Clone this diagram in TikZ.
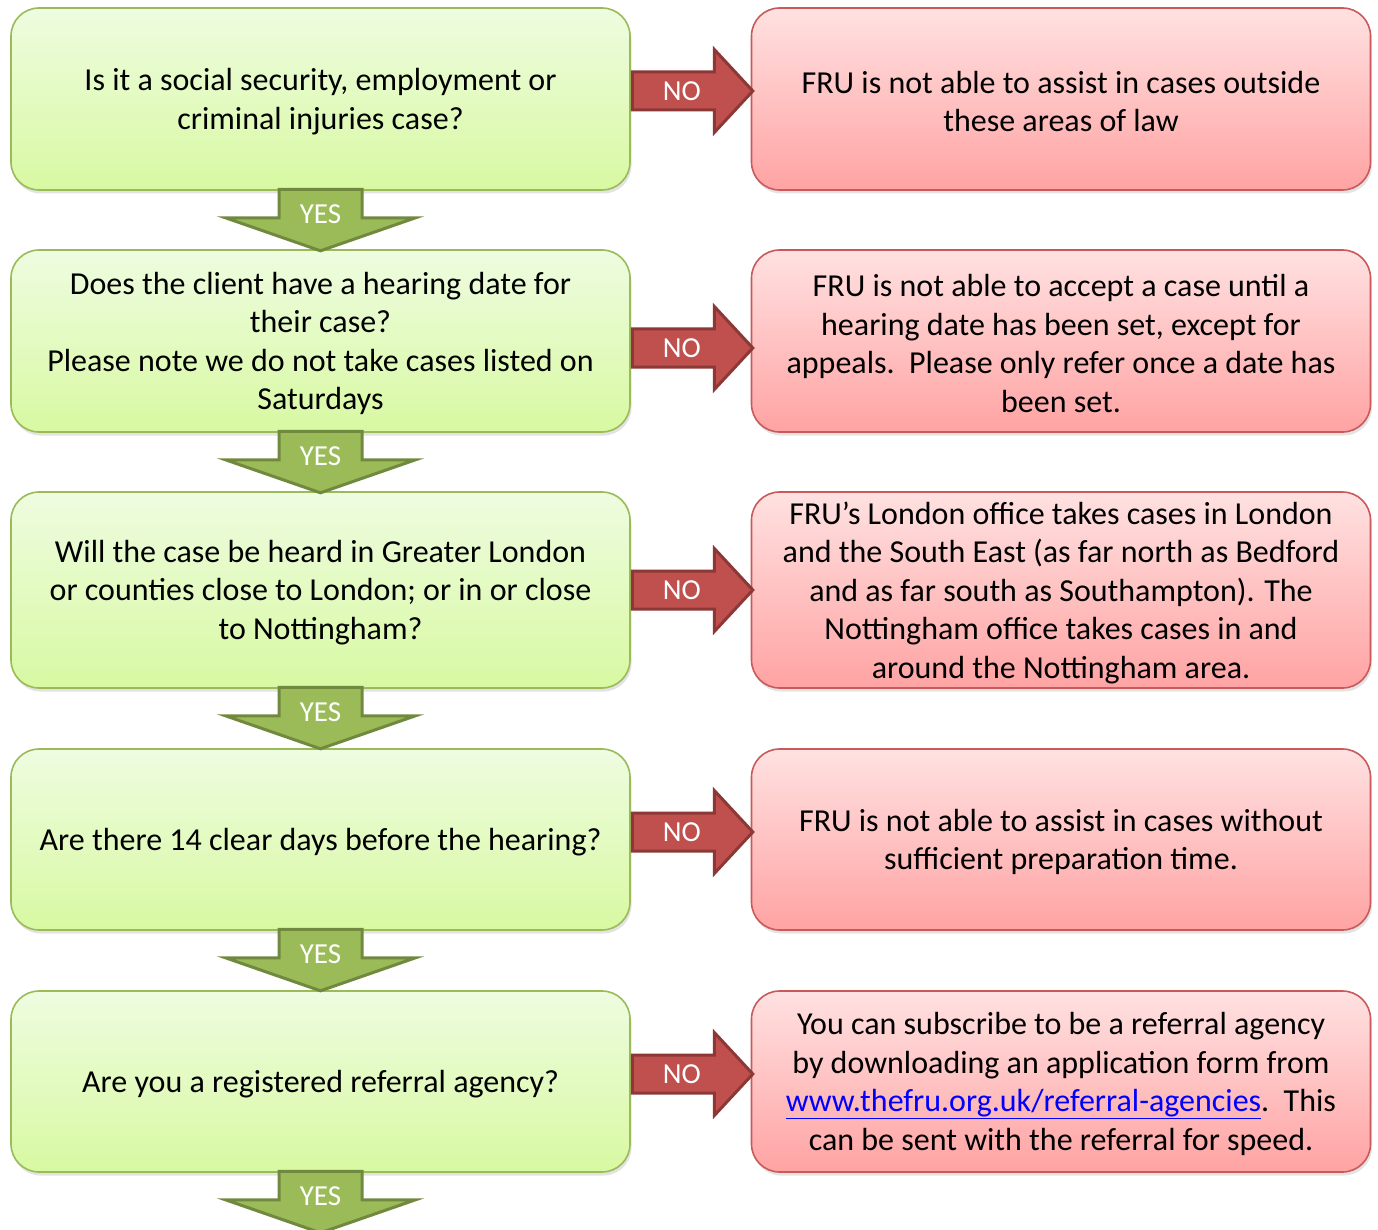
\documentclass[tikz,border=0pt]{standalone}
\usepackage{fontspec}
\setmainfont{Carlito}
\usetikzlibrary{shadows}
\definecolor{gborder}{HTML}{9BBB59}
\definecolor{gtop}{HTML}{EEFCE0}
\definecolor{gbot}{HTML}{D8F9A2}
\definecolor{rborder}{HTML}{C9595A}
\definecolor{rtop}{HTML}{FFE1E1}
\definecolor{rbot}{HTML}{FFA3A3}
\definecolor{noFill}{HTML}{C0504D}
\definecolor{noLine}{HTML}{8C3836}
\definecolor{yesFill}{HTML}{9BBB59}
\definecolor{yesLine}{HTML}{71893F}
\definecolor{linkblue}{HTML}{0000FF}
\tikzset{
  boxbase/.style={rectangle, rounded corners=28pt, line width=1.6pt,
    minimum width=619pt, inner sep=0pt,
    drop shadow={opacity=0.22, shadow xshift=1.5pt, shadow yshift=-3.5pt}},
  gbox/.style={boxbase, draw=gborder, top color=gtop, bottom color=gbot},
  rbox/.style={boxbase, draw=rborder, top color=rtop, bottom color=rbot},
  boxtext/.style={align=center, inner sep=0pt, font={\fontsize{32}{38.5}\selectfont}},
  noarrow/.style={fill=noFill, draw=noLine, line width=3pt},
  yesarrow/.style={fill=yesFill, draw=yesLine, line width=3pt},
  arrowtext/.style={text=white, font={\fontsize{29}{32}\selectfont}, inner sep=0pt}
}
\newcommand{\boxtxt}[2]{\node[boxtext] (#1t) at ([yshift=-2.5pt]#1.center) {#2};}
\newcommand{\noarr}[2]{%
  \path[noarrow] (#1) ++(1.5,-19) -- ++(82,0) -- ++(0,-22.5) -- ++(38.5,41.5) -- ++(-38.5,41.5) -- ++(0,-22.5) -- ++(-82,0) -- cycle;
  \node[arrowtext] (#2) at ([xshift=51pt]#1) {NO};}
\newcommand{\yesarr}[2]{%
  \path[yesarrow] (#1) ++(-41.5,1.5) -- ++(83,0) -- ++(0,28.5) -- ++(53.5,0) -- ++(-95,33) -- ++(-95,-33) -- ++(53.5,0) -- cycle;
  \node[arrowtext] (#2) at ([yshift=-26pt]#1) {YES};}
\begin{document}
\begin{tikzpicture}[x=1pt, y=-1pt]
\clip (0,0) rectangle (1378,1230);
\fill[white] (0,0) rectangle (1378,1230);
% green question boxes
\node[gbox, minimum height=182pt] (q1) at (320.5,99) {};
\node[gbox, minimum height=182pt] (q2) at (320.5,341) {};
\node[gbox, minimum height=196pt] (q3) at (320.5,590) {};
\node[gbox, minimum height=181pt] (q4) at (320.5,839.5) {};
\node[gbox, minimum height=181pt] (q5) at (320.5,1081.5) {};
\boxtxt{q1}{Is it a social security, employment or\\criminal injuries case?}
\boxtxt{q2}{Does the client have a hearing date for\\their case?\\Please note we do not take cases listed on\\Saturdays}
\boxtxt{q3}{Will the case be heard in Greater London\\or counties close to London; or in or close\\to Nottingham?}
\boxtxt{q4}{Are there 14 clear days before the hearing?}
\boxtxt{q5}{Are you a registered referral agency?}
% red answer boxes
\node[rbox, minimum height=182pt] (a1) at (1061,99) {};
\node[rbox, minimum height=182pt] (a2) at (1061,341) {};
\node[rbox, minimum height=196pt] (a3) at (1061,590) {};
\node[rbox, minimum height=181pt] (a4) at (1061,839.5) {};
\node[rbox, minimum height=181pt] (a5) at (1061,1081.5) {};
\boxtxt{a1}{FRU is not able to assist in cases outside\\these areas of law}
\boxtxt{a2}{FRU is not able to accept a case until a\\hearing date has been set, except for\\appeals.\ \ Please only refer once a date has\\been set.}
\boxtxt{a3}{FRU’s London office takes cases in London\\and the South East (as far north as Bedford\\and as far south as Southampton). The\\Nottingham office takes cases in and\\around the Nottingham area.}
\boxtxt{a4}{FRU is not able to assist in cases without\\sufficient preparation time.}
\boxtxt{a5}{You can subscribe to be a referral agency\\by downloading an application form from\\\textcolor{linkblue}{\underline{www.thefru.org.uk/referral-agencies}}.\ \ This\\can be sent with the referral for speed.}
% NO arrows
\coordinate (n1) at (q1.east |- 0,91);
\coordinate (n2) at (q2.east |- 0,348);
\coordinate (n3) at (q3.east |- 0,590);
\coordinate (n4) at (q4.east |- 0,832);
\coordinate (n5) at (q5.east |- 0,1074);
\noarr{n1}{no1}
\noarr{n2}{no2}
\noarr{n3}{no3}
\noarr{n4}{no4}
\noarr{n5}{no5}
% YES arrows
\coordinate (y1) at ([yshift=3pt]q1.south);
\coordinate (y2) at ([yshift=3pt]q2.south);
\coordinate (y3) at ([yshift=3pt]q3.south);
\coordinate (y4) at ([yshift=3pt]q4.south);
\coordinate (y5) at ([yshift=3pt]q5.south);
\yesarr{y1}{yes1}
\yesarr{y2}{yes2}
\yesarr{y3}{yes3}
\yesarr{y4}{yes4}
\yesarr{y5}{yes5}
\end{tikzpicture}
\end{document}
